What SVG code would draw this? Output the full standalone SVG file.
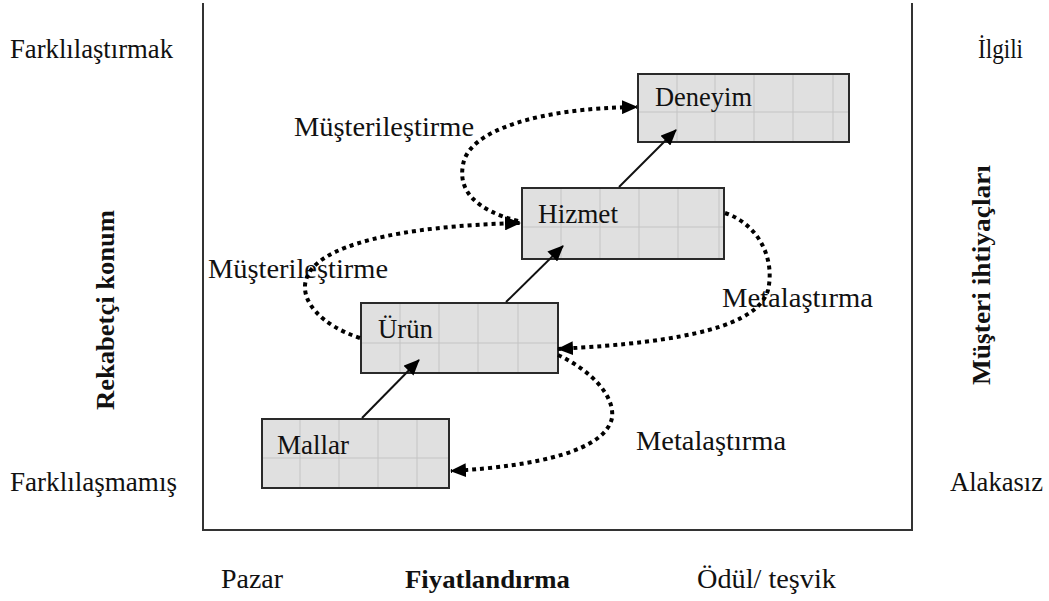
<svg xmlns="http://www.w3.org/2000/svg" width="1049" height="601" viewBox="0 0 1049 601">
<style>
.t{font-family:"Liberation Serif","Times New Roman",serif;font-size:27px;fill:#111}
.b{font-weight:bold;font-size:26px}
.box{fill:#e0e0e0;stroke:#2a2a2a;stroke-width:2}
.grid{stroke:#c4c4c4;stroke-width:1;fill:none}
.axis{stroke:#333;stroke-width:2;fill:none}
.dot{stroke:#000;stroke-width:4;stroke-dasharray:4 4;fill:none}
.sol{stroke:#111;stroke-width:2;fill:none}
</style>
<defs>
<marker id="ah" markerUnits="userSpaceOnUse" markerWidth="16" markerHeight="14" refX="15" refY="7" viewBox="0 0 16 14" orient="auto">
<path d="M0,0 L16,7 L0,14 z" fill="#000"/>
</marker>
</defs>
<rect width="1049" height="601" fill="#fff"/>
<g id="axes">
<path class="axis" d="M203,3 V530 H912 V3"/>
</g>
<g id="labels">
<text class="t" x="10" y="58" textLength="163" lengthAdjust="spacingAndGlyphs">Farklılaştırmak</text>
<text class="t" x="978" y="58" textLength="45" lengthAdjust="spacingAndGlyphs">İlgili</text>
<text class="t" x="10" y="491" textLength="167" lengthAdjust="spacingAndGlyphs">Farklılaşmamış</text>
<text class="t" x="950" y="491" textLength="93" lengthAdjust="spacingAndGlyphs">Alakasız</text>
<text class="t" x="221" y="588" textLength="62" lengthAdjust="spacingAndGlyphs">Pazar</text>
<text class="t b" x="405" y="588" textLength="165" lengthAdjust="spacingAndGlyphs">Fiyatlandırma</text>
<text class="t" x="697" y="588" textLength="139" lengthAdjust="spacingAndGlyphs">Ödül/ teşvik</text>
<text class="t b" transform="translate(114,410) rotate(-90)" x="0" y="0" textLength="200" lengthAdjust="spacingAndGlyphs">Rekabetçi konum</text>
<text class="t b" transform="translate(990,385) rotate(-90)" x="0" y="0" textLength="220" lengthAdjust="spacingAndGlyphs">Müşteri ihtiyaçları</text>
<text class="t" x="294" y="136" textLength="180" lengthAdjust="spacingAndGlyphs">Müşterileştirme</text>
<text class="t" x="208" y="278" textLength="180" lengthAdjust="spacingAndGlyphs">Müşterileştirme</text>
<text class="t" x="722" y="307" textLength="151" lengthAdjust="spacingAndGlyphs">Metalaştırma</text>
<text class="t" x="636" y="450" textLength="150" lengthAdjust="spacingAndGlyphs">Metalaştırma</text>
</g>
<g id="node-deneyim">
<rect class="box" x="638" y="74" width="211" height="68"/>
<path class="grid" d="M677,75V141M715,75V141M754,75V141M793,75V141M833,75V141M639,112H848"/>
<rect x="638" y="74" width="211" height="68" fill="none" stroke="#2a2a2a" stroke-width="2"/>
<text class="t" x="655" y="106" textLength="97" lengthAdjust="spacingAndGlyphs">Deneyim</text>
</g>
<g id="node-hizmet">
<rect class="box" x="522" y="188" width="202" height="71"/>
<path class="grid" d="M561,189V258M600,189V258M639,189V258M678,189V258M719,189V258M523,227H723"/>
<rect x="522" y="188" width="202" height="71" fill="none" stroke="#2a2a2a" stroke-width="2"/>
<text class="t" x="538" y="223" textLength="80" lengthAdjust="spacingAndGlyphs">Hizmet</text>
</g>
<g id="node-urun">
<rect class="box" x="361" y="303" width="197" height="70"/>
<path class="grid" d="M400,304V372M439,304V372M478,304V372M518,304V372M362,343H557"/>
<rect x="361" y="303" width="197" height="70" fill="none" stroke="#2a2a2a" stroke-width="2"/>
<text class="t" x="378" y="338" textLength="55" lengthAdjust="spacingAndGlyphs">Ürün</text>
</g>
<g id="node-mallar">
<rect class="box" x="262" y="419" width="187" height="69"/>
<path class="grid" d="M300,420V487M339,420V487M378,420V487M417,420V487M263,458H448"/>
<rect x="262" y="419" width="187" height="69" fill="none" stroke="#2a2a2a" stroke-width="2"/>
<text class="t" x="277" y="454" textLength="72" lengthAdjust="spacingAndGlyphs">Mallar</text>
</g>
<g id="connectors">
<path class="sol" d="M362,418 L419,360" marker-end="url(#ah)"/>
<path class="sol" d="M506,302 L563,246" marker-end="url(#ah)"/>
<path class="sol" d="M619,187 L676,130" marker-end="url(#ah)"/>
<path class="dot" d="M518,221 C475,210 458,190 463,165 C468,130 540,108 637,107" marker-end="url(#ah)"/>
<path class="dot" d="M360,338 C320,325 300,300 306,280 C315,245 400,226 520,223" marker-end="url(#ah)"/>
<path class="dot" d="M725,213 C760,225 775,260 768,290 C758,325 690,342 558,349" marker-end="url(#ah)"/>
<path class="dot" d="M558,355 C590,370 615,395 612,418 C605,450 540,466 451,471" marker-end="url(#ah)"/>
</g>
</svg>
